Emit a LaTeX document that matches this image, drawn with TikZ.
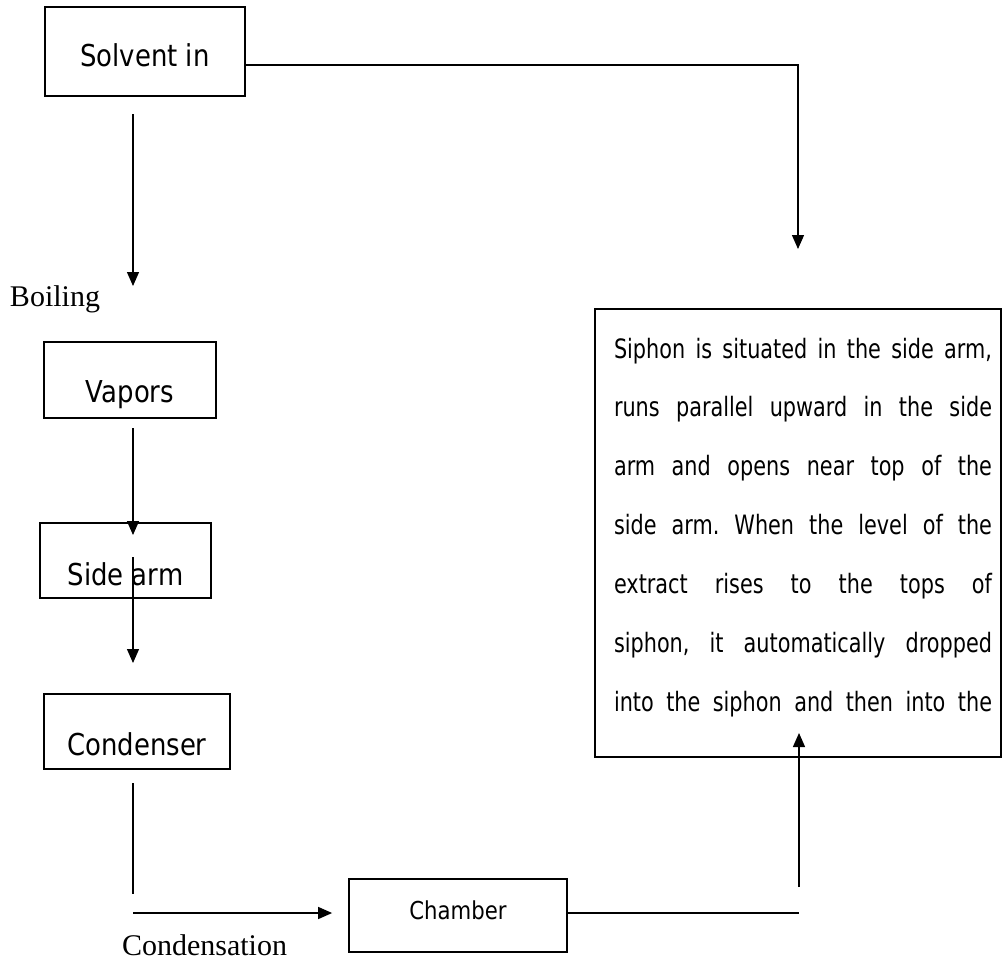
\documentclass[tikz,border=0pt]{standalone}
\usepackage{fontspec}
\setmainfont{Liberation Serif}
\newfontfamily\boxfont[FakeStretch=0.86]{DejaVu Sans}
\newfontfamily\notefont[FakeStretch=0.78]{DejaVu Sans}
\usetikzlibrary{arrows.meta,positioning,calc}

% one justified line of the siphon note
\newcommand{\noteline}[1]{\hspace*{7.5pt}\makebox[283.5pt][s]{\frenchspacing\spaceskip=0pt\xspaceskip=0pt\relax #1}}

\tikzset{
  stepbox/.style={draw, line width=1.3pt, inner sep=0pt, text depth=0pt,
    font=\boxfont\fontsize{22.6}{27}\selectfont},
  notebox/.style={draw, line width=1.3pt, inner sep=0pt, text width=291pt, align=left,
    font=\notefont\fontsize{20}{44.2}\selectfont},
  flow/.style={line width=1pt},
  caption/.style={anchor=base, inner sep=0pt, font=\fontsize{22.5}{27}\selectfont},
}

\begin{document}
\begin{tikzpicture}[x=0.75pt, y=-0.75pt, >={Triangle[length=10.5pt,width=9pt]}]
\useasboundingbox (0,0) rectangle (1004,961);

% boxes
\node[stepbox, minimum width=150pt, minimum height=66.75pt, text height=22.5pt] (solvent) at (145,51.5) {Solvent in};
\node[stepbox, minimum width=129pt, minimum height=57pt, text height=33.75pt] (vapors) at (130,380) {Vapors};
\node[stepbox, minimum width=128.25pt, minimum height=56.25pt, text height=36.75pt] (sidearm) at (125.5,560.5) {Side arm};
\node[stepbox, minimum width=139.5pt, minimum height=56.25pt, text height=35.25pt] (condenser) at (137,731.5) {Condenser};
\node[stepbox, minimum width=163.5pt, minimum height=54.75pt, text height=13.5pt, text depth=7.5pt,
  font=\boxfont\fontsize{18.5}{22}\selectfont] (chamber) at (458,915.5) {Chamber};
\node[notebox, minimum width=304.5pt, minimum height=336pt, text height=15.2pt, text depth=277.7pt] (siphon) at (798,533)
  {\noteline{Siphon is situated in the side arm,}\\
   \noteline{runs parallel upward in the side}\\
   \noteline{arm and opens near top of the}\\
   \noteline{side arm. When the level of the}\\
   \noteline{extract rises to the tops of}\\
   \noteline{siphon, it automatically dropped}\\
   \noteline{into the siphon and then into the}};

% captions
\node[caption] (boiling) at (55,306) {Boiling};
\node[caption] (condensation) at (204.5,955) {Condensation};

% connectors
\coordinate (turn) at (798,65);
\coordinate (siphontop) at (798,249);
\draw[flow,->] (solvent.east |- turn) -- (turn) -- (siphontop);

\coordinate (boiltop) at (133,114);
\coordinate (boilend) at (133,286);
\draw[flow,->] (boiltop) -- (boilend);

\coordinate (vapout) at (133,428);
\coordinate (armin) at (133,535);
\draw[flow,->] (vapout) -- (armin);

\coordinate (armout) at (133,557);
\coordinate (condin) at (133,663);
\draw[flow,->] (armout) -- (condin);

\coordinate (condout) at (133,783);
\coordinate (condend) at (133,894);
\draw[flow] (condout) -- (condend);

\coordinate (chamin) at (133,913);
\draw[flow,->,shorten >=12pt] (chamin) -- (chamin -| chamber.west);

\coordinate (corner) at (799,913);
\draw[flow] (chamber.east |- corner) -- (corner);

\coordinate (riser) at (799,887);
\coordinate (siphonbot) at (799,733);
\draw[flow,->] (riser) -- (siphonbot);
\end{tikzpicture}
\end{document}
